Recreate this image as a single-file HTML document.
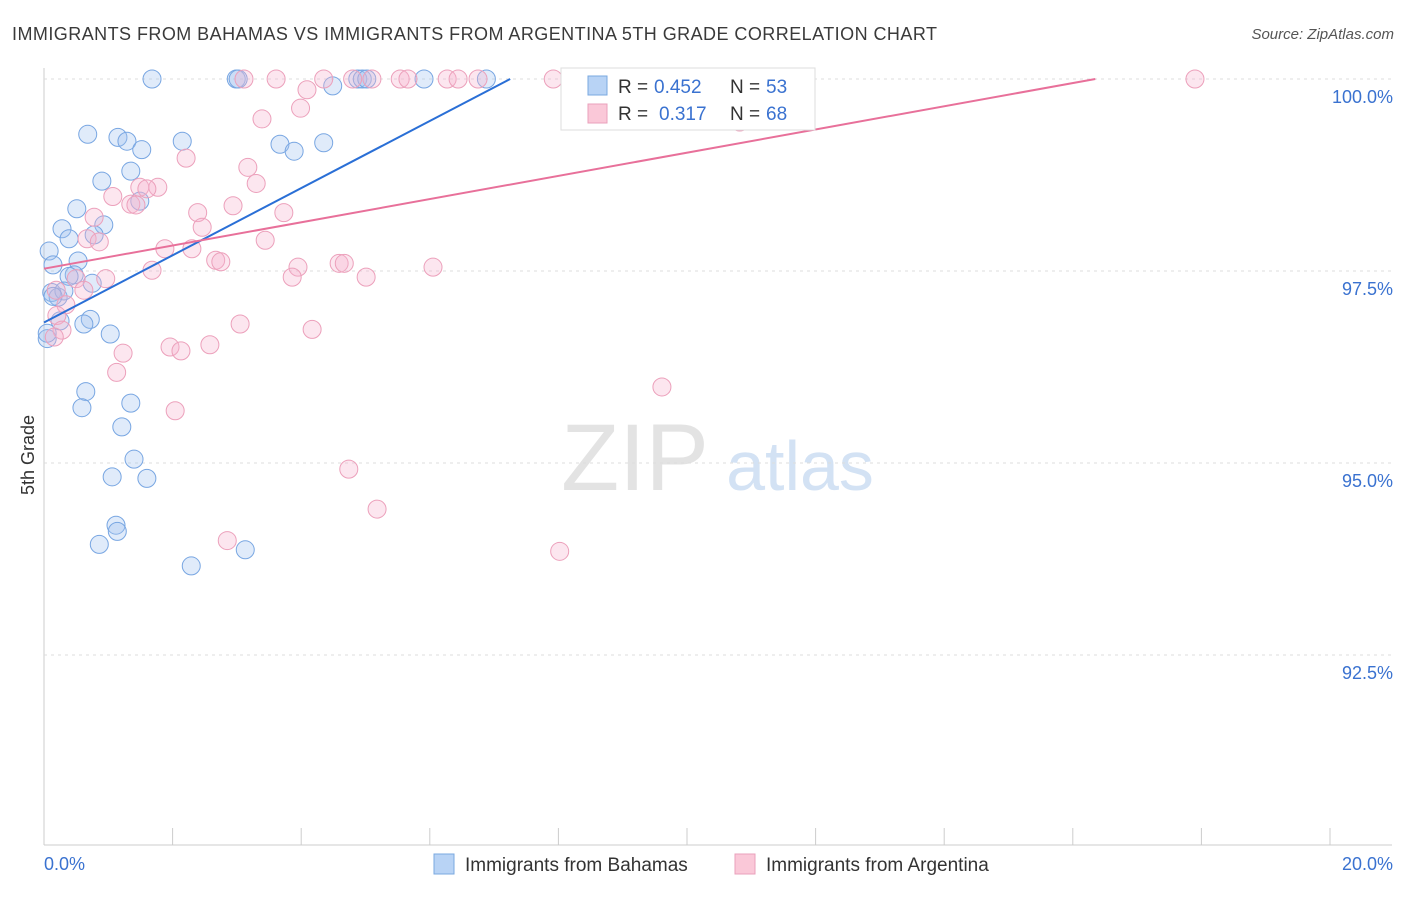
<!DOCTYPE html>
<html><head><meta charset="utf-8"><style>
body{margin:0;background:#fff;font-family:"Liberation Sans",sans-serif;}
svg text{font-family:"Liberation Sans",sans-serif;}
</style></head><body>
<svg id="c" width="1406" height="892">
<text x="12" y="40" font-size="18" fill="#3a3a3a" letter-spacing="0.45">IMMIGRANTS FROM BAHAMAS VS IMMIGRANTS FROM ARGENTINA 5TH GRADE CORRELATION CHART</text>
<text x="1394" y="39" font-size="15" fill="#555" text-anchor="end" font-style="italic">Source: ZipAtlas.com</text>
<text transform="translate(34,455) rotate(-90)" font-size="18" fill="#333" text-anchor="middle">5th Grade</text>
<g><text x="635" y="490" font-size="95" fill="#e3e3e3" font-family="Liberation Serif" text-anchor="middle">ZIP</text><text x="800" y="490" font-size="70" fill="#d3e2f4" text-anchor="middle">atlas</text></g>
<g id="grid"></g><g id="pts"></g><g id="lines"></g>
<g>
<rect x="561" y="68" width="254" height="62" fill="#fff" stroke="#ddd"/>
<rect x="588" y="76" width="19" height="19" fill="#b8d3f5" stroke="#7aa8e0"/>
<text x="618" y="93" font-size="19" fill="#333">R =</text>
<text x="654" y="93" font-size="19" fill="#3a72d0">0.452</text>
<text x="730" y="93" font-size="19" fill="#333">N =</text>
<text x="766" y="93" font-size="19" fill="#3a72d0">53</text>
<rect x="588" y="104" width="19" height="19" fill="#fac8d8" stroke="#eaa0bb"/>
<text x="618" y="120" font-size="19" fill="#333">R =</text>
<text x="659" y="120" font-size="19" fill="#3a72d0">0.317</text>
<text x="730" y="120" font-size="19" fill="#333">N =</text>
<text x="766" y="120" font-size="19" fill="#3a72d0">68</text>
</g>
<g>
<rect x="434" y="854" width="20" height="20" fill="#b8d3f5" stroke="#7aa8e0"/>
<text x="465" y="871" font-size="19" fill="#333">Immigrants from Bahamas</text>
<rect x="735" y="854" width="20" height="20" fill="#fac8d8" stroke="#eaa0bb"/>
<text x="766" y="871" font-size="19" fill="#333">Immigrants from Argentina</text>
</g>
</svg>
<script>
const xTicks=[0,2,4,6,8,10,12,14,16,18,20];
const yTicks=[100,97.5,95,92.5];
const yTickLabels=["100.0%","97.5%","95.0%","92.5%"];
const bahamasX=[1.68,2.99,3.02,4.49,4.88,4.95,5.02,5.91,6.88,0.68,1.15,1.29,1.52,2.15,3.67,3.89,4.35,1.35,0.9,1.49,0.51,0.28,0.93,0.39,0.78,0.08,0.14,0.53,0.47,0.39,0.75,0.12,0.22,0.31,0.14,0.72,0.62,1.03,0.05,0.65,0.59,1.35,1.21,1.4,1.06,1.6,1.12,1.14,0.86,3.13,2.29,0.05,0.25];
const bahamasY=[100,100,100,99.91,100,100,100,100,100,99.28,99.24,99.19,99.08,99.19,99.15,99.06,99.17,98.8,98.67,98.41,98.31,98.05,98.1,97.92,97.97,97.76,97.58,97.63,97.45,97.43,97.34,97.22,97.16,97.24,97.17,96.87,96.81,96.68,96.62,95.93,95.72,95.78,95.47,95.05,94.82,94.8,94.19,94.11,93.94,93.87,93.66,96.69,96.85];
const argX=[3.11,3.61,4.35,4.8,5.1,5.54,5.66,6.27,6.44,6.75,7.92,8.2,8.93,17.9,4.09,3.99,3.39,10.82,2.21,3.17,3.3,1.07,1.49,1.77,1.6,1.35,1.43,2.94,2.39,3.73,0.78,2.46,0.67,0.86,3.44,1.88,2.3,2.67,2.75,4.59,4.67,3.95,1.68,6.05,3.86,5.01,0.96,0.5,0.19,0.62,0.34,0.2,0.28,0.16,3.05,4.17,1.96,2.13,2.58,1.23,1.13,2.04,9.61,4.74,5.18,2.85,8.02];
const argY=[100,100,100,100,100,100,100,100,100,100,100,100,100,100,99.86,99.62,99.48,99.44,98.97,98.85,98.64,98.47,98.59,98.59,98.57,98.37,98.36,98.35,98.26,98.26,98.2,98.07,97.92,97.88,97.9,97.79,97.79,97.64,97.62,97.6,97.6,97.55,97.51,97.55,97.42,97.42,97.4,97.4,97.25,97.25,97.06,96.92,96.73,96.64,96.81,96.74,96.51,96.46,96.54,96.43,96.18,95.68,95.99,94.92,94.4,93.99,93.85];
const trendB=[0,96.83,7.25,100];
const trendA=[0,97.53,16.35,100];
const X=v=>44+v*64.3, Y=v=>79+(100-v)*76.8;
const NS="http://www.w3.org/2000/svg";
function mk(t,a,p){const e=document.createElementNS(NS,t);for(const k in a)e.setAttribute(k,a[k]);p.appendChild(e);return e;}
const g=document.getElementById('grid');
mk('line',{x1:44,y1:68,x2:44,y2:845,stroke:'#ccc'},g);
mk('line',{x1:44,y1:845,x2:1392,y2:845,stroke:'#ccc'},g);
yTicks.forEach((v,i)=>{
 const l=mk('line',{x1:44,y1:Y(v),x2:1392,y2:Y(v),stroke:'#ddd','stroke-dasharray':'3,4'},g);
 
 
 const t=mk('text',{x:1393,y:Y(v)+24,'font-size':18,fill:'#3a72d0','text-anchor':'end'},g);t.textContent=yTickLabels[i];
 
 
});
xTicks.forEach(v=>{
 const l=mk('line',{x1:X(v),y1:828,x2:X(v),y2:845,stroke:'#ccc'},g);
 
 
});
[[0,'0.0%','start',44],[20,'20.0%','end',1393]].forEach(a=>{
 const t=mk('text',{x:a[3],y:870,'font-size':18,fill:'#3a72d0','text-anchor':a[2]},g);t.textContent=a[1];
 
 
});
const P=document.getElementById('pts');
bahamasX.forEach((x,i)=>{const c=mk('circle',{cx:X(x),cy:Y(bahamasY[i]),r:9,fill:'rgba(160,195,240,0.33)',stroke:'#78a6e2','stroke-width':1},P);
 
 });
argX.forEach((x,i)=>{const c=mk('circle',{cx:X(x),cy:Y(argY[i]),r:9,fill:'rgba(245,180,205,0.33)',stroke:'#eca0bb','stroke-width':1},P);
 
 });
const L=document.getElementById('lines');
const lb=mk('line',{x1:X(trendB[0]),y1:Y(trendB[1]),x2:X(trendB[2]),y2:Y(trendB[3]),stroke:'#2a6fd6','stroke-width':2},L);


const la=mk('line',{x1:X(trendA[0]),y1:Y(trendA[1]),x2:X(trendA[2]),y2:Y(trendA[3]),stroke:'#e8709a','stroke-width':2},L);


</script>
</body></html>
